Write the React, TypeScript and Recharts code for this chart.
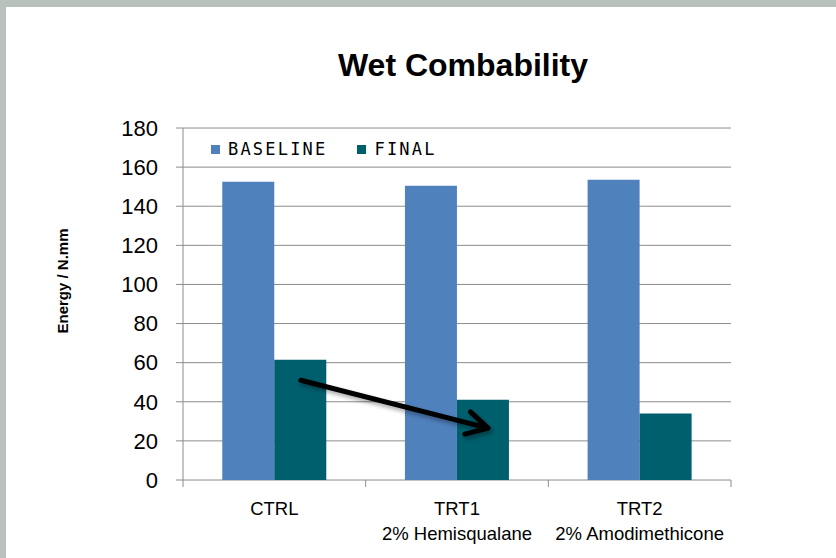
import React from 'react';
import { BarChart, Bar, XAxis, YAxis, CartesianGrid, ReferenceLine } from 'recharts';

const categories = ['CTRL', 'TRT1', 'TRT2'];
const subLabels = ['', '2% Hemisqualane', '2% Amodimethicone'];
const positions = [0.5, 1.5, 2.5];
const baseline = [152.5, 150.5, 153.5];
const finalVals = [61.5, 41, 34];
const yTicks = [0, 20, 40, 60, 80, 100, 120, 140, 160, 180];
const arrowFrom = { x: 0.645, y: 51 };
const arrowTo = { x: 1.67, y: 26.5 };

const data = categories.map((c, i) => ({ name: c, pos: positions[i], sub: subLabels[i], BASELINE: baseline[i], FINAL: finalVals[i] }));

const BLUE = '#4F81BD';
const TEAL = '#005F6D';
const AXIS = '#8c8c8c';

const CatTick = (props: any) => {
  const { x, y, payload, index, width, visibleTicksCount } = props;
  const sub = subLabels[index] || '';
  const half = width && visibleTicksCount ? width / visibleTicksCount / 2 : 0;
  const y0 = y - 8;
  return (
    <g>
      {index === 0 && half > 0 && <line x1={x - half} x2={x - half} y1={y0} y2={y0 + 7} stroke={AXIS} />}
      {half > 0 && <line x1={x + half} x2={x + half} y1={y0} y2={y0 + 7} stroke={AXIS} />}
      <text x={x} y={y + 27} textAnchor="middle" fontFamily="Liberation Sans" fontSize={18.5} fill="#000">{payload.value}</text>
      {sub && <text x={x} y={y + 52} textAnchor="middle" fontFamily="Liberation Sans" fontSize={18.5} fill="#000">{sub}</text>}
    </g>
  );
};

const ArrowShape = (props: any) => {
  const { x1, y1, x2, y2 } = props;
  if ([x1, y1, x2, y2].some((v) => v === undefined || isNaN(v))) return null;
  const ang = Math.atan2(y2 - y1, x2 - x1);
  const L = 24;
  const spread = 0.5;
  const ax = x2 - L * Math.cos(ang - spread);
  const ay = y2 - L * Math.sin(ang - spread);
  const bx = x2 - L * Math.cos(ang + spread);
  const by = y2 - L * Math.sin(ang + spread);
  const path = `M${x1},${y1} L${x2},${y2} M${ax},${ay} L${x2},${y2} L${bx},${by}`;
  return (
    <g>
      <defs>
        <filter id="arrowShadow" x="-20%" y="-50%" width="140%" height="200%">
          <feGaussianBlur stdDeviation="2" />
        </filter>
      </defs>
      <path d={path} transform="translate(2,3)" stroke="#000" strokeOpacity={0.35} strokeWidth={5} fill="none" strokeLinecap="round" strokeLinejoin="round" filter="url(#arrowShadow)" />
      <path d={path} stroke="#000" strokeWidth={5} fill="none" strokeLinecap="round" strokeLinejoin="round" />
    </g>
  );
};

export default function App() {
  return (
    <div style={{ position: 'absolute', left: 0, top: 0, width: 836, height: 558, background: '#b8c1bc', overflow: 'hidden' }}>
      <div style={{ position: 'absolute', left: 6, top: 7, width: 830, height: 551, background: '#fff' }} />
      <div style={{ position: 'absolute', left: 0, top: 47, width: 926, textAlign: 'center', fontFamily: 'Liberation Sans', fontWeight: 'bold', fontSize: 32, color: '#000' }}>
        Wet Combability
      </div>
      <div style={{ position: 'absolute', left: 62, top: 281, width: 0, height: 0 }}>
        <div style={{ position: 'absolute', transform: 'translate(-50%, -50%) rotate(-90deg)', whiteSpace: 'nowrap', fontFamily: 'Liberation Sans', fontWeight: 'bold', fontSize: 15, color: '#000' }}>
          Energy / N.mm
        </div>
      </div>
      <div style={{ position: 'absolute', left: 0, top: 0 }}>
        <BarChart width={836} height={558} data={data} margin={{ top: 128, right: 105, bottom: 38, left: 123 }} barCategoryGap="21.5%" barGap={0}>
          <CartesianGrid horizontal vertical={false} stroke={AXIS} strokeWidth={1} />
          <XAxis xAxisId="num" dataKey="pos" type="number" domain={[0, 3]} tick={false} tickLine={false} height={0} axisLine={{ stroke: AXIS }} allowDataOverflow />
          <XAxis dataKey="name" height={40} axisLine={false} tickLine={false} tick={<CatTick />} interval={0} />
          <YAxis domain={[0, 180]} ticks={yTicks} width={60} tickSize={7} tickMargin={18} axisLine={{ stroke: AXIS }} tickLine={{ stroke: AXIS }} tick={{ fontFamily: 'Liberation Sans', fontSize: 22, fill: '#000' }} interval={0} />
          <Bar dataKey="BASELINE" fill={BLUE} isAnimationActive={false} />
          <Bar dataKey="FINAL" fill={TEAL} isAnimationActive={false} />
          <ReferenceLine xAxisId="num" segment={[arrowFrom, arrowTo]} shape={<ArrowShape />} ifOverflow="visible" />
        </BarChart>
      </div>
      <div style={{ position: 'absolute', left: 211, top: 139, display: 'flex', alignItems: 'center', fontFamily: 'DejaVu Sans Mono', fontSize: 17, letterSpacing: 2.2, color: '#000', lineHeight: '20px' }}>
        <span style={{ display: 'inline-block', width: 9, height: 9, background: BLUE, marginRight: 8 }} />
        <span>BASELINE</span>
        <span style={{ display: 'inline-block', width: 9, height: 9, background: TEAL, marginLeft: 30, marginRight: 8 }} />
        <span>FINAL</span>
      </div>
    </div>
  );
}
